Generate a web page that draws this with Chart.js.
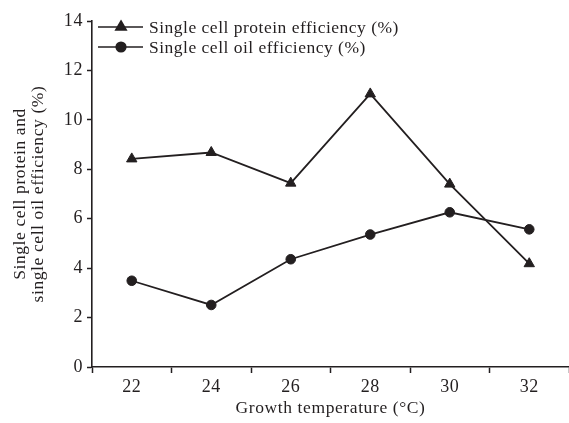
<!DOCTYPE html>
<html>
<head>
<meta charset="utf-8">
<script src="https://cdn.jsdelivr.net/npm/chart.js@4"></script>
<style>
  html, body { margin: 0; padding: 0; background: #fff; overflow: hidden; }
  #wrap { position: relative; width: 569px; height: 423px; overflow: hidden; }
  #c { display: block; }
</style>
</head>
<body>
<div id="wrap"><canvas id="c" width="576" height="423"></canvas></div>
<script>
const temperatures = ['22', '24', '26', '28', '30', '32'];
const proteinEfficiency = [8.42, 8.68, 7.44, 11.05, 7.4, 4.18];
const oilEfficiency = [3.49, 2.51, 4.36, 5.36, 6.26, 5.57];
const proteinLabel = 'Single cell protein efficiency (%)';
const oilLabel = 'Single cell oil efficiency (%)';
const xTitle = 'Growth temperature (°C)';
const yTitle = ['Single cell protein and', 'single cell oil efficiency (%)'];

const INK = '#231f20';
const SERIF = "'Liberation Serif', 'DejaVu Serif', serif";

const canvas = document.getElementById('c');

const spacingPlugin = {
  id: 'spacing',
  beforeInit(chart) { chart.ctx.letterSpacing = '0.6px'; },
  beforeUpdate(chart) { chart.ctx.letterSpacing = '0.6px'; },
  beforeLayout(chart) { chart.ctx.letterSpacing = '0.6px'; },
  beforeDraw(chart) { chart.ctx.letterSpacing = '0.6px'; }
};

const legendPlugin = {
  id: 'lineLegend',
  afterDraw(chart) {
    const ctx = chart.ctx;
    const rows = [27, 47];
    ctx.save();
    chart.data.datasets.forEach((ds, i) => {
      const y = rows[i];
      ctx.strokeStyle = INK;
      ctx.lineWidth = 1.6;
      ctx.beginPath();
      ctx.moveTo(98, y);
      ctx.lineTo(143, y);
      ctx.stroke();
      ctx.fillStyle = INK;
      Chart.helpers.drawPoint(ctx, {
        pointStyle: ds.pointStyle, radius: ds.pointRadius, rotation: 0, borderWidth: 1
      }, 121, y);
      ctx.fillStyle = INK;
      ctx.font = "17.5px " + SERIF;
      ctx.letterSpacing = '0.5px';
      ctx.textBaseline = 'middle';
      ctx.textAlign = 'left';
      ctx.fillText(ds.label, 149, y + 1);
    });
    ctx.restore();
  }
};

new Chart(canvas, {
  type: 'line',
  data: {
    labels: temperatures,
    datasets: [
      {
        label: proteinLabel,
        data: proteinEfficiency,
        borderColor: INK,
        backgroundColor: INK,
        borderWidth: 1.8,
        pointStyle: 'triangle',
        pointRadius: 6,
        pointBorderWidth: 1,
        tension: 0
      },
      {
        label: oilLabel,
        data: oilEfficiency,
        borderColor: INK,
        backgroundColor: INK,
        borderWidth: 1.8,
        pointStyle: 'circle',
        pointRadius: 4.8,
        pointBorderWidth: 1,
        tension: 0
      }
    ]
  },
  options: {
    responsive: false,
    animation: false,
    layout: { padding: { top: 21, left: 0, right: 0, bottom: 0 } },
    plugins: {
      legend: { display: false },
      tooltip: { enabled: false }
    },
    scales: {
      x: {
        type: 'category',
        offset: true,
        afterFit(scale) { scale.height = 56; scale.paddingRight = 0; scale.paddingLeft = 0; },
        grid: {
          offset: true,
          drawOnChartArea: false,
          drawTicks: true,
          tickLength: 6,
          tickWidth: 1.5,
          tickColor: INK
        },
        border: { color: INK, width: 1.6 },
        ticks: {
          color: INK,
          padding: 3,
          font: { family: SERIF, size: 18 },
          maxRotation: 0
        },
        title: {
          display: true,
          text: xTitle,
          color: INK,
          font: { family: SERIF, size: 17.5 },
          padding: { top: 0, bottom: 4 }
        }
      },
      y: {
        min: 0,
        max: 14,
        afterFit(scale) { scale.width = 92; },
        grid: {
          drawOnChartArea: false,
          drawTicks: true,
          tickLength: 5,
          tickWidth: 1.5,
          tickColor: INK
        },
        border: { color: INK, width: 1.6 },
        ticks: {
          stepSize: 2,
          color: INK,
          padding: 4,
          font: { family: SERIF, size: 18 }
        },
        title: {
          display: true,
          text: yTitle,
          color: INK,
          font: { family: SERIF, size: 17.5, lineHeight: 1.0 },
          padding: { top: 12, bottom: 0 }
        }
      }
    }
  },
  plugins: [spacingPlugin, legendPlugin]
});
</script>
</body>
</html>
